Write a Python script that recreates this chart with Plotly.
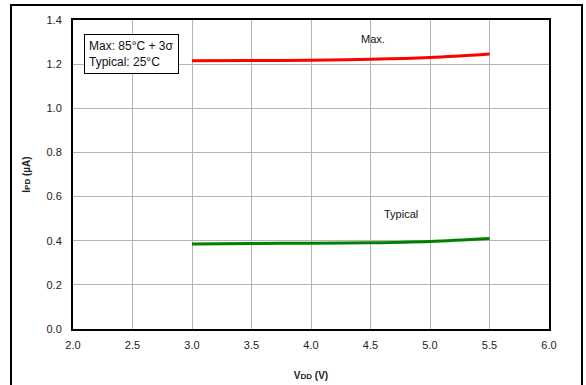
import plotly.graph_objects as go

vdd = [3.0, 3.5, 4.0, 4.5, 5.0, 5.5]
ipd_max = [1.215, 1.216, 1.218, 1.222, 1.230, 1.246]
ipd_typ = [0.385, 0.387, 0.389, 0.391, 0.397, 0.410]

x_ticks = [2.0, 2.5, 3.0, 3.5, 4.0, 4.5, 5.0, 5.5, 6.0]
y_ticks = [0.0, 0.2, 0.4, 0.6, 0.8, 1.0, 1.2, 1.4]

FONT = "Liberation Sans, Arial, sans-serif"

fig = go.Figure()
fig.add_trace(go.Scatter(x=vdd, y=ipd_max, mode="lines", line=dict(color="#ff0000", width=3, shape="spline"), showlegend=False))
fig.add_trace(go.Scatter(x=vdd, y=ipd_typ, mode="lines", line=dict(color="#008000", width=3, shape="spline"), showlegend=False))

fig.update_layout(
    width=586, height=385,
    margin=dict(l=73, r=37, t=20, b=56),
    paper_bgcolor="white", plot_bgcolor="white",
    font=dict(family=FONT, size=11, color="#222"),
    xaxis=dict(range=[2.0, 6.0], tickvals=x_ticks, ticktext=[f"{v:.1f}" for v in x_ticks],
               showgrid=True, gridcolor="#b4b4b4", gridwidth=1, zeroline=False,
               showline=True, linecolor="black", linewidth=2, mirror=True,
               ticks="", ticklabelstandoff=5, automargin=False,
               title=dict(text="<b>V<span style='font-size:8px'>DD</span> (V)</b>", font=dict(size=10, family=FONT), standoff=22)),
    yaxis=dict(range=[0.0, 1.4], tickvals=y_ticks, ticktext=[f"{v:.1f}" for v in y_ticks],
               showgrid=True, gridcolor="#b4b4b4", gridwidth=1, zeroline=False,
               showline=True, linecolor="black", linewidth=2, mirror=True,
               ticks="", ticklabelstandoff=7, automargin=False,
               title=dict(text="<b>I<span style='font-size:8px'>PD</span> (µA)</b>", font=dict(size=10, family=FONT), standoff=14)),
    shapes=[dict(type="rect", xref="paper", yref="paper",
                 x0=(11 - 73) / 476, x1=(582 - 73) / 476,
                 y0=(329 - 395) / 309, y1=(329 - 5) / 309,
                 line=dict(color="black", width=2), layer="below")],
    annotations=[
        dict(x=2.092, y=1.337, xref="x", yref="y", xanchor="left", yanchor="top",
             text="Max: 85°C + 3σ<br>Typical: 25°C", align="left", showarrow=False,
             bordercolor="black", borderwidth=1, borderpad=4, bgcolor="white",
             font=dict(size=12, family=FONT, color="#111")),
        dict(x=4.52, y=1.314, xref="x", yref="y", text="Max.", showarrow=False,
             font=dict(size=11, family=FONT, color="#111")),
        dict(x=4.76, y=0.521, xref="x", yref="y", text="Typical", showarrow=False,
             font=dict(size=11, family=FONT, color="#111")),
    ],
)

fig.write_html("out.html", config={"displayModeBar": False},
               post_script="document.body.style.margin='0';")
